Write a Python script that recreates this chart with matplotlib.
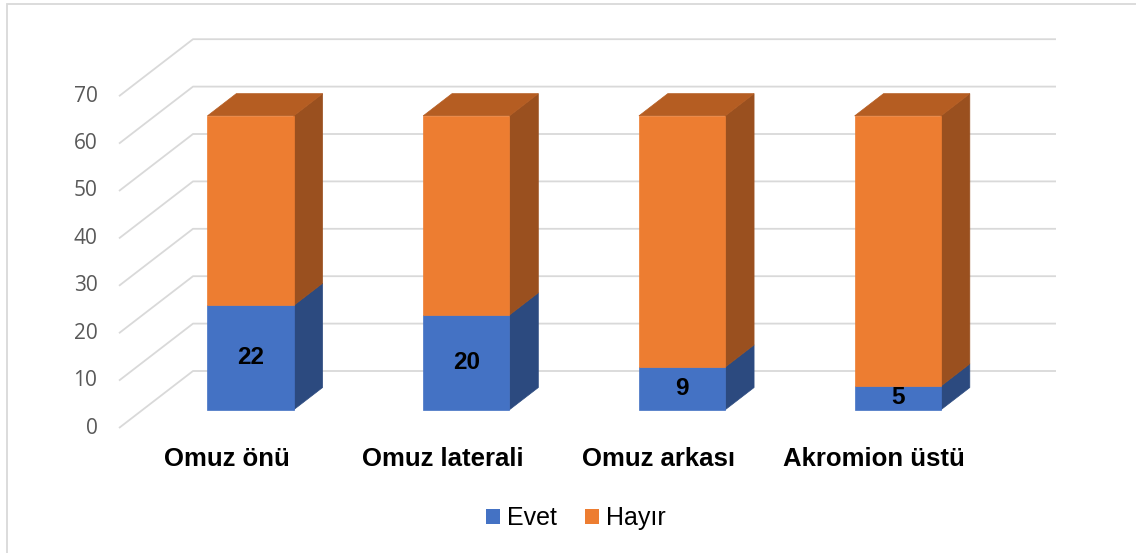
import matplotlib
matplotlib.use("Agg")
import matplotlib.pyplot as plt
from matplotlib.patches import Polygon, Patch, Rectangle

# ---- data ----
categories = ["Omuz önü", "Omuz laterali", "Omuz arkası", "Akromion üstü"]
evet = [22, 20, 9, 5]
hayir = [40, 42, 53, 57]
series_names = ["Evet", "Hayır"]
yticks = [0, 10, 20, 30, 40, 50, 60, 70]

# ---- styling / geometry ----
W, H = 1136, 553
DPI = 100
PX_PER_CAT = 215.75
PX_PER_VAL = 4.74
X0_PX = 119.0      # left edge of category axis (front)
Y0_PX = 428.0      # value 0 at front
DEPTH_DX_PX = 74.0
DEPTH_DY_PX = 57.0
DX = DEPTH_DX_PX / PX_PER_CAT
DY = DEPTH_DY_PX / PX_PER_VAL
BAR_W = 0.4
D_FRONT = 0.32
D_BACK = 0.71

front_cols = ["#4472C4", "#ED7D31"]
side_cols = ["#2C4A7F", "#9A501F"]
top_cols = ["#3A62A8", "#B55D22"]
grid_col = "#D9D9D9"

fig = plt.figure(figsize=(W / DPI, H / DPI), dpi=DPI)
ax = fig.add_axes([0, 0, 1, 1])
xmin = (0 - X0_PX) / PX_PER_CAT - 0.5
xmax = (W - X0_PX) / PX_PER_CAT - 0.5
ymin = (Y0_PX - H) / PX_PER_VAL
ymax = (Y0_PX - 0) / PX_PER_VAL
ax.set_xlim(xmin, xmax)
ax.set_ylim(ymin, ymax)
ax.axis("off")


def P(x, v, d):
    return (x + d * DX, v + d * DY)


n = len(categories)
# gridlines (side wall diagonal + back wall)
for t in yticks:
    pts = [P(-0.5, t, 0), P(-0.5, t, 1), P(n - 0.5, t, 1)]
    ax.plot([p[0] for p in pts], [p[1] for p in pts], color=grid_col,
            lw=1.3, solid_capstyle="butt", zorder=1)
    lx, ly = P(-0.5, t, 0)
    ax.text(lx - 0.1, ly, str(t), ha="right", va="center",
            fontsize=15, color="#595959", family="Open Sans")

# bars
z = 2
series = [evet, hayir]
for i in range(n):
    base = 0
    for s, vals in enumerate(series):
        v = vals[i]
        x0, x1 = i - BAR_W / 2, i + BAR_W / 2
        b, t = base, base + v
        front = [P(x0, b, D_FRONT), P(x1, b, D_FRONT), P(x1, t, D_FRONT), P(x0, t, D_FRONT)]
        side = [P(x1, b, D_FRONT), P(x1, b, D_BACK), P(x1, t, D_BACK), P(x1, t, D_FRONT)]
        top = [P(x0, t, D_FRONT), P(x1, t, D_FRONT), P(x1, t, D_BACK), P(x0, t, D_BACK)]
        ax.add_patch(Polygon(side, closed=True, fc=side_cols[s], ec=side_cols[s], lw=0.5, zorder=z))
        if s == len(series) - 1:
            ax.add_patch(Polygon(top, closed=True, fc=top_cols[s], ec=top_cols[s], lw=0.5, zorder=z + 0.5))
        ax.add_patch(Polygon(front, closed=True, fc=front_cols[s], ec=front_cols[s], lw=0.5, zorder=z + 1))
        if s == 0:
            cx, cy = P(i, (b + t) / 2, D_FRONT)
            ax.text(cx, cy, str(v), ha="center", va="center", fontsize=17.5,
                    fontweight="bold", color="black", family="Liberation Sans", zorder=100)
        base = t
    z += 3

# category labels
for i, c in enumerate(categories):
    ax.text(i, (Y0_PX - 459) / PX_PER_VAL, c, ha="center", va="center",
            fontsize=18.5, fontweight="bold", color="black", family="Liberation Sans")

# legend
handles = [Patch(fc=front_cols[k], ec="none") for k in range(2)]
leg = ax.legend(handles, series_names, loc="center", ncol=2,
                bbox_to_anchor=(576 / W, 1 - 518 / H), bbox_transform=fig.transFigure,
                frameon=False, prop={"family": "Liberation Sans", "size": 18},
                handlelength=0.56, handleheight=0.56, handletextpad=0.3,
                columnspacing=1.1, borderpad=0)

# chart border
fig.patches.append(Rectangle((7 / W, -0.1), 1.2, 1.1 - 4 / H, transform=fig.transFigure,
                             fill=False, ec=grid_col, lw=1.3))

fig.savefig("out.png", dpi=DPI)
